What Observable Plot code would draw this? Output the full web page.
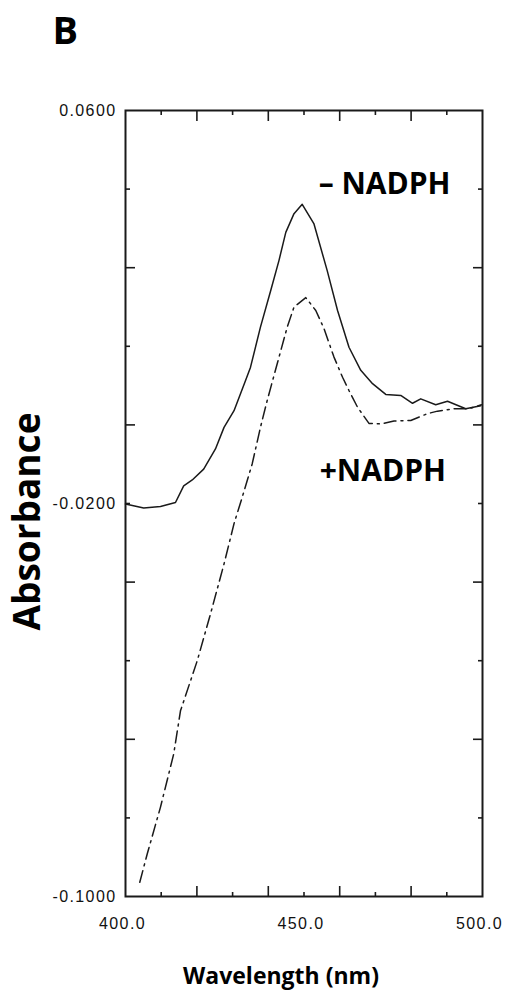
<!DOCTYPE html>
<html>
<head>
<meta charset="utf-8">
<script src="https://cdn.jsdelivr.net/npm/d3@7"></script>
<script src="https://cdn.jsdelivr.net/npm/@observablehq/plot@0.6"></script>
<style>
  html, body { margin: 0; padding: 0; background: #fff; }
  #chart svg { display: block; }
</style>
</head>
<body>
<div id="chart"></div>
<script>
// −NADPH (solid) spectrum: wavelength (nm), absorbance
const minusWave = [400, 405.1, 409.8, 414.0, 416.3, 418.7, 421.9, 425.2, 427.6, 430.4, 433.6, 435.0, 437.8, 440.7, 443.0, 444.9, 447.2, 449.5, 452.8, 456.5, 459.4, 462.6, 465.9, 469.2, 472.9, 477.1, 480.4, 482.7, 486.9, 490.2, 495.3, 499.5];
const minusAbs  = [-0.0201, -0.0209, -0.0206, -0.0198, -0.0164, -0.0152, -0.0130, -0.0089, -0.0045, -0.0011, 0.0050, 0.0077, 0.0159, 0.0234, 0.0295, 0.0352, 0.0390, 0.0409, 0.0369, 0.0274, 0.0193, 0.0118, 0.0071, 0.0044, 0.0022, 0.0020, 0.0004, 0.0013, 0.0001, 0.0008, -0.0007, -0.0001];

// +NADPH (dashed) spectrum
const plusWave = [404.0, 406.1, 409.8, 413.5, 415.4, 420.1, 423.8, 427.6, 430.4, 432.7, 435.5, 437.8, 439.7, 443.0, 445.3, 447.2, 450.5, 453.3, 455.6, 458.4, 460.8, 462.6, 465.0, 468.2, 471.5, 475.2, 479.9, 484.6, 487.4, 492.0, 496.2, 499.7];
const plusAbs  = [-0.0971, -0.0913, -0.0818, -0.0710, -0.0622, -0.0520, -0.0425, -0.0323, -0.0241, -0.0187, -0.0119, -0.0045, 0.0010, 0.0098, 0.0159, 0.0200, 0.0219, 0.0193, 0.0156, 0.0098, 0.0057, 0.0030, -0.0004, -0.0037, -0.0038, -0.0032, -0.0031, -0.0017, -0.0012, -0.0007, -0.0007, 0.0001];

// axis ticks
const xLongTicks  = [420, 440, 460, 480];
const xShortTicks = [410, 430, 450, 470, 490];
const xLabelTicks = [400, 450, 500];
const yLongTicks  = [0.028, -0.004, -0.036, -0.068];
const yShortTicks = [0.044, 0.012, -0.020, -0.052, -0.084];
const yLabelTicks = [0.06, -0.02, -0.10];

// curve annotations
const curveNames = ["\u2013 NADPH", "+NADPH"];
const curveLabelX = [454.1, 454.4];
const curveLabelY = [0.0449, -0.0135];

const minusData = minusWave.map((w, i) => ({w, a: minusAbs[i]}));
const plusData = plusWave.map((w, i) => ({w, a: plusAbs[i]}));
const labelData = curveNames.map((t, i) => ({t, x: curveLabelX[i], y: curveLabelY[i]}));

const ink = "#1a1a1a";
const tickFont = "'Liberation Sans', Arial, sans-serif";
const boldFont = "'Open Sans', 'Noto Sans', sans-serif";

const chart = Plot.plot({
  width: 509,
  height: 1001,
  marginLeft: 125,
  marginRight: 27,
  marginTop: 110,
  marginBottom: 105,
  style: {fontFamily: tickFont, fontSize: "15px", color: ink, background: "#fff"},
  x: {domain: [400, 500], axis: null},
  y: {domain: [-0.1, 0.06], axis: null},
  marks: [
    // inward ticks, long and short, on all four sides
    Plot.axisX(xLongTicks, {anchor: "bottom", tickSize: -10, text: null, label: null, strokeWidth: 1.6}),
    Plot.axisX(xShortTicks, {anchor: "bottom", tickSize: -4, text: null, label: null, strokeWidth: 1.6}),
    Plot.axisX(xLongTicks, {anchor: "top", tickSize: -10, text: null, label: null, strokeWidth: 1.6}),
    Plot.axisX(xShortTicks, {anchor: "top", tickSize: -4, text: null, label: null, strokeWidth: 1.6}),
    Plot.axisY(yLongTicks, {anchor: "left", tickSize: -10, text: null, label: null, strokeWidth: 1.6}),
    Plot.axisY(yShortTicks, {anchor: "left", tickSize: -5, text: null, label: null, strokeWidth: 1.6}),
    Plot.axisY(yLongTicks, {anchor: "right", tickSize: -10, text: null, label: null, strokeWidth: 1.6}),
    Plot.axisY(yShortTicks, {anchor: "right", tickSize: -5, text: null, label: null, strokeWidth: 1.6}),
    // tick labels
    Plot.text(xLabelTicks, {x: d => d, frameAnchor: "bottom", text: d => d.toFixed(1), textAnchor: "middle", lineAnchor: "middle", dy: 27, dx: -3, fontSize: 16, fontFamily: tickFont, fill: "#111"}),
    Plot.text(yLabelTicks, {y: d => d, frameAnchor: "left", text: d => d.toFixed(4), textAnchor: "end", lineAnchor: "middle", dx: -9, fontSize: 16, fontFamily: tickFont, fill: "#111"}),
    Plot.frame({stroke: ink, strokeWidth: 2}),
    // spectra
    Plot.line(minusData, {x: "w", y: "a", stroke: ink, strokeWidth: 1.5, curve: "linear"}),
    Plot.line(plusData, {x: "w", y: "a", stroke: ink, strokeWidth: 1.5, strokeDasharray: "12,5,2,5", curve: "linear"}),
    // curve labels
    Plot.text(labelData, {x: "x", y: "y", text: "t", textAnchor: "start", fontSize: 30, fontWeight: 700, fontFamily: boldFont, fill: "#000"}),
    // panel letter and axis titles
    Plot.text(["B"], {frameAnchor: "top-left", text: d => d, textAnchor: "start", lineAnchor: "middle", dx: -73, dy: -79, fontSize: 38, fontWeight: 700, fontFamily: boldFont, fill: "#000"}),
    Plot.text(["Absorbance"], {frameAnchor: "left", text: d => d, textAnchor: "middle", lineAnchor: "middle", rotate: -90, dx: -97, dy: 18, fontSize: 37, fontWeight: 700, fontFamily: boldFont, fill: "#000"}),
    Plot.text(["Wavelength (nm)"], {frameAnchor: "bottom", text: d => d, textAnchor: "middle", lineAnchor: "middle", dy: 80, dx: -23, fontSize: 23, fontWeight: 700, fontFamily: boldFont, fill: "#000"})
  ]
});
// widen spacing of the tick labels to match the reference's wide digits
chart.querySelectorAll("text").forEach(t => {
  const s = t.textContent;
  if (/^-?0\.\d{4}$/.test(s) || /^\d{3}\.0$/.test(s)) t.setAttribute("letter-spacing", "1.4px");
});
document.getElementById("chart").appendChild(chart);
</script>
</body>
</html>
